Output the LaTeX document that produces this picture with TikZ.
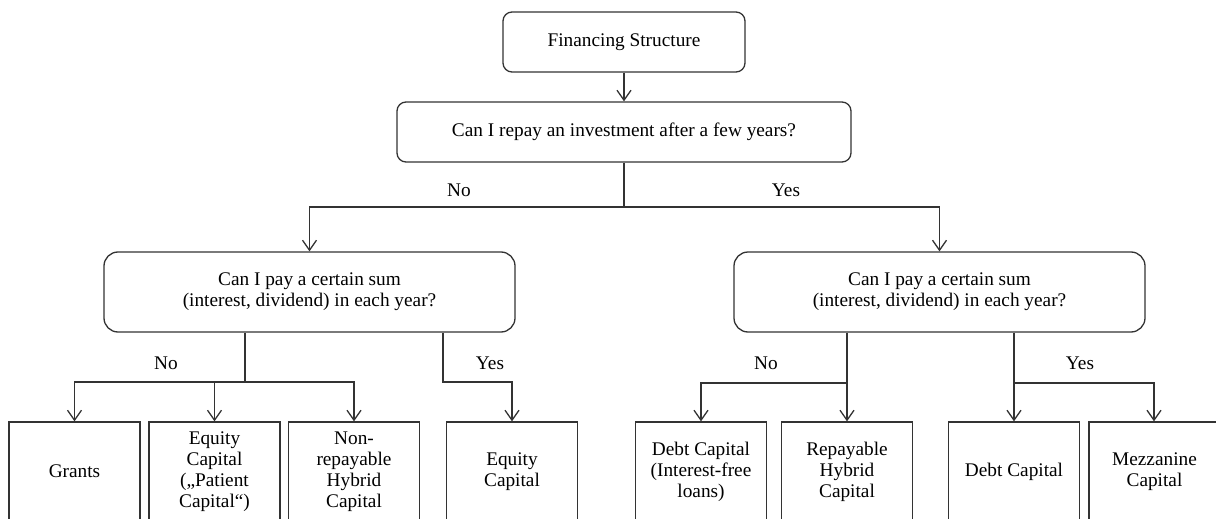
\documentclass[tikz,border=0pt]{standalone}
\usepackage{fontspec}
\setmainfont{Liberation Serif}
\usetikzlibrary{arrows.meta}

\tikzstyle{block} = [rectangle, draw=black!80, line width=1.3pt, rounded corners=9pt,
		text centered, align=center]
\tikzstyle{leaf} = [rectangle, draw=black!80, line width=1.3pt, minimum width=131pt,
		minimum height=99pt, text centered, align=center]
\tikzstyle{line} = [draw=black!80, line width=1.3pt, -{Straight Barb[length=10pt,width=14pt]}]
\tikzstyle{plain} = [draw=black!80, line width=1.3pt]

\begin{document}
\begin{tikzpicture}[x=1pt, y=-1pt, font=\fontsize{19.3}{21}\selectfont]
		\clip (0,0) rectangle (1216,519);
		%Top question
		\node [block, minimum width=242pt, minimum height=60pt] (fin) at (624,42) {Financing Structure};
		\node [block, minimum width=454pt, minimum height=60pt] (repay) at (624,132) {Can I repay an investment after a few years?};
		\draw[line] (fin) -- (repay);
		
		%second questions
		\node [block, minimum width=411pt, minimum height=80pt, rounded corners=14pt] (payL) at (309.5,292) {Can I pay a certain sum\\(interest, dividend) in each year?};
		\node [block, minimum width=411pt, minimum height=80pt, rounded corners=14pt] (payR) at (939.5,292) {Can I pay a certain sum\\(interest, dividend) in each year?};
		\coordinate (splitTop) at (624,207);
		\draw[plain] (repay) -- (splitTop);
		\draw[line] (splitTop) -| (payL);
		\draw[line] (splitTop) -| (payR);
		\node (noTop) at (459,190) {No};
		\node (yesTop) at (786,190) {Yes};
		
		%Left answers
		\node [leaf] (grants) at (74.5,471.5) {Grants};
		\node [leaf] (eqPat) at (214.5,471.5) {Equity\\Capital\\(„Patient\\Capital“)};
		\node [leaf] (nonRep) at (354,471.5) {Non-\\repayable\\Hybrid\\Capital};
		\node [leaf] (eqCap) at (512,471.5) {Equity\\Capital};
		
		%Right answers
		\node [leaf] (debtFree) at (701,471.5) {Debt Capital\\(Interest-free\\loans)};
		\node [leaf] (repHyb) at (847,471.5) {Repayable\\Hybrid\\Capital};
		\node [leaf] (debtCap) at (1014,471.5) {Debt Capital};
		\node [leaf, minimum width=141pt] (mezz) at (1159.5,471.5) {\hspace*{-10pt}Mezzanine\\\hspace*{-10pt}Capital};
		
		%arrows left
		\coordinate (noL) at (245,382);
		\coordinate (yesL) at (443,382);
		\draw[plain] (payL.south -| noL) -- (noL);
		\draw[line] (noL) -| (grants);
		\draw[line] (noL) -| (eqPat);
		\draw[line] (noL) -| (nonRep);
		\draw[line] (payL.south -| yesL) -- (yesL) -| (eqCap);
		\node (noLabL) at (166,363) {No};
		\node (yesLabL) at (490,363) {Yes};
		
		%arrows right
		\coordinate (noR) at (847,383);
		\coordinate (yesR) at (1014,383);
		\draw[line] (payR.south -| repHyb) -- (repHyb);
		\draw[line] (noR) -| (debtFree);
		\draw[line] (payR.south -| debtCap) -- (debtCap);
		\draw[line] (yesR) -| ([xshift=-5.5pt]mezz.north);
		\node (noLabR) at (766,363) {No};
		\node (yesLabR) at (1080,363) {Yes};
		
\end{tikzpicture}
\end{document}
